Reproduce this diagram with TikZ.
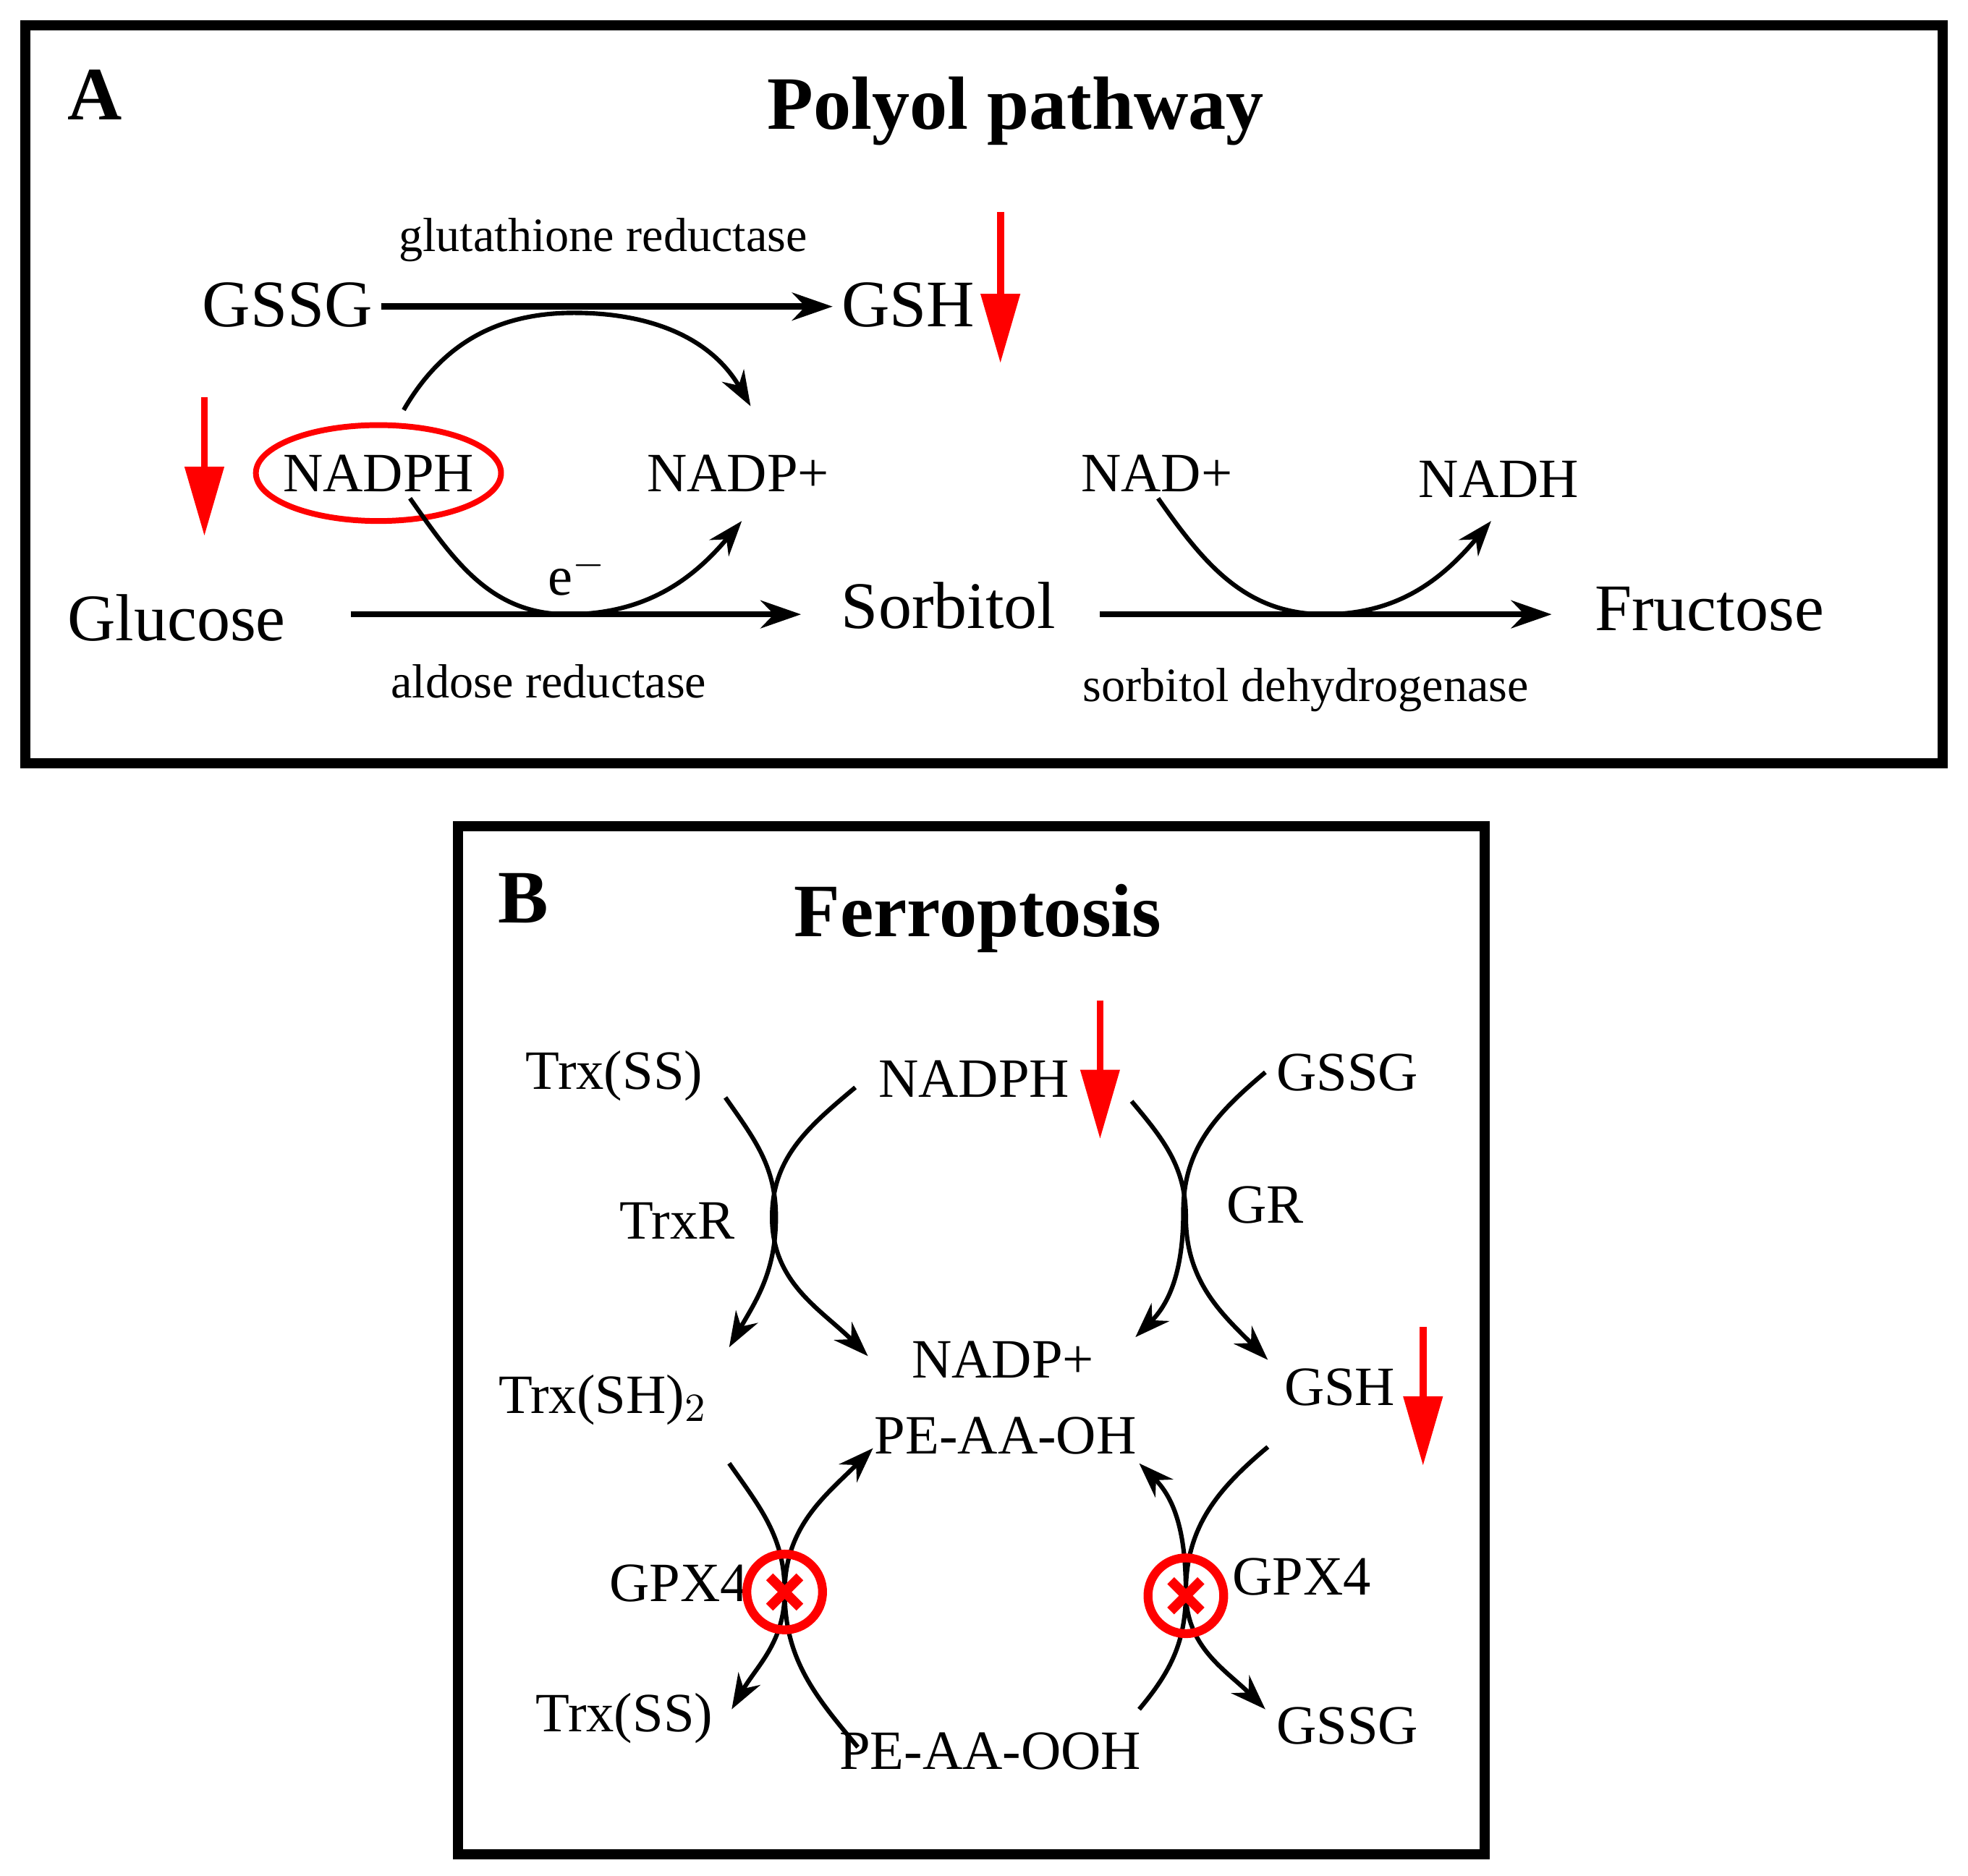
\documentclass[tikz,border=0pt]{standalone}
\usepackage{fontspec}
\setmainfont{Liberation Serif}
\usetikzlibrary{arrows.meta,shapes.geometric}
\begin{document}
\begin{tikzpicture}[x=0.01cm,y=-0.01cm,
 big/.style={font=\fontsize{15}{17}\selectfont},
 mid/.style={font=\fontsize{12.5}{15}\selectfont},
 sm/.style={font=\fontsize{10.8}{13}\selectfont},
 ttl/.style={font=\bfseries\fontsize{17}{20}\selectfont},
 rx/.style={line width=1.4pt,-{Stealth[length=0.32cm,width=0.22cm]}},
 cv/.style={line width=1pt,-{Stealth[length=0.28cm,width=0.2cm]}},
 redarr/.style={draw=red,line width=1.6pt,-{Triangle[length=0.55cm,width=0.3cm]}},
 xline/.style={draw=red,line width=2.2pt},
 box/.style={line width=2.2pt}]
\useasboundingbox (0,0) rectangle (1560,1487);
% Panel A
\draw[box] (20,20) rectangle (1540,605);
\node[ttl] (A) at (75,75) {A};
\node[ttl] (tA) at (805,88) {Polyol pathway};
\node[big] (gssg) at (228,242) {GSSG};
\node[big] (gsh) at (720,242) {GSH};
\node[sm] (gr) at (478,190) {glutathione reductase};
\coordinate (g1) at (302,243); \coordinate (g2) at (660,243);
\draw[rx] (g1) -- (g2);
\coordinate (r1a) at (793,168); \coordinate (r1b) at (793,288);
\draw[redarr] (r1a) -- (r1b);
\node[mid,draw=red,ellipse,line width=1.3pt,inner xsep=-0.07cm,inner ysep=0pt,minimum width=1.94cm,minimum height=0.76cm] (nadph) at (300,375) {NADPH};
\node[mid] (nadp) at (585,375) {NADP+};
\coordinate (r2a) at (162,315); \coordinate (r2b) at (162,425);
\draw[redarr] (r2a) -- (r2b);
\coordinate (c1) at (320,325); \coordinate (c1m) at (455,248); \coordinate (c1e) at (595,322);
\draw[cv] (c1) to[out=60,in=180] (c1m) to[out=0,in=120] (c1e);
\node[big] (glc) at (140,490) {Glucose};
\node[big] (sor) at (752,480) {Sorbitol};
\node[big] (fru) at (1355,483) {Fructose};
\coordinate (a1) at (278,487); \coordinate (a2) at (635,487);
\draw[rx] (a1) -- (a2);
\node[sm] (ar) at (435,540) {aldose reductase};
\coordinate (c2) at (325,395); \coordinate (c2m) at (450,487); \coordinate (c2e) at (588,413);
\draw[cv] (c2) to[out=-55,in=180] (c2m) to[out=0,in=-130] (c2e);
\node[mid] (e) at (458,455) {e$^{-}$};
\node[mid] (nad) at (917,375) {NAD+};
\node[mid] (nadh) at (1188,380) {NADH};
\coordinate (c3) at (918,395); \coordinate (c3m) at (1050,487); \coordinate (c3e) at (1182,413);
\draw[cv] (c3) to[out=-55,in=180] (c3m) to[out=0,in=-130] (c3e);
\coordinate (s1) at (872,487); \coordinate (s2) at (1230,487);
\draw[rx] (s1) -- (s2);
\node[sm] (sdh) at (1035,547) {sorbitol dehydrogenase};
% Panel B
\draw[box] (363,655) rectangle (1177,1470);
\node[ttl] (B) at (415,712) {B};
\node[ttl] (tB) at (775,728) {Ferroptosis};
\node[mid] (trxss) at (487,853) {Trx(SS)};
\node[mid] (nadphB) at (772,855) {NADPH};
\node[mid] (gssgB) at (1068,850) {GSSG};
\coordinate (r3a) at (872,793); \coordinate (r3b) at (872,903);
\draw[redarr] (r3a) -- (r3b);
\node[mid] (trxr) at (537,968) {TrxR};
\node[mid] (grB) at (1003,955) {GR};
\coordinate (l1) at (575,870); \coordinate (l1m) at (615,965); \coordinate (l1e) at (578,1068);
\draw[cv] (l1) to[out=-55,in=90] (l1m) to[out=-90,in=60] (l1e);
\coordinate (l2) at (678,862); \coordinate (l2m) at (612,965); \coordinate (l2e) at (688,1075);
\draw[cv] (l2) to[out=-140,in=90] (l2m) to[out=-90,in=135] (l2e);
\coordinate (q1) at (897,873); \coordinate (q1m) at (940,965); \coordinate (q1e) at (1005,1078);
\draw[cv] (q1) to[out=-50,in=90] (q1m) to[out=-90,in=135] (q1e);
\coordinate (q2) at (1003,850); \coordinate (q2m) at (938,960); \coordinate (q2e) at (900,1060);
\draw[cv] (q2) to[out=-140,in=90] (q2m) to[out=-90,in=45] (q2e);
\node[mid] (nadpB) at (795,1078) {NADP+};
\node[mid] (peoh) at (797,1138) {PE-AA-OH};
\node[mid] (trxsh) at (478,1110) {Trx(SH)$_2$};
\node[mid] (gshB) at (1062,1100) {GSH};
\coordinate (r4a) at (1128,1052); \coordinate (r4b) at (1128,1162);
\draw[redarr] (r4a) -- (r4b);
\coordinate (m1) at (578,1160); \coordinate (m1m) at (622,1262); \coordinate (m1e) at (580,1355);
\draw[cv] (m1) to[out=-55,in=90] (m1m) to[out=-90,in=60] (m1e);
\coordinate (m2) at (680,1385); \coordinate (m2m) at (622,1262); \coordinate (m2e) at (692,1148);
\draw[cv] (m2) to[out=130,in=-90] (m2m) to[out=90,in=-135] (m2e);
\coordinate (n1) at (1005,1147); \coordinate (n1m) at (940,1262); \coordinate (n1e) at (1003,1355);
\draw[cv] (n1) to[out=-140,in=90] (n1m) to[out=-90,in=135] (n1e);
\coordinate (n2) at (903,1355); \coordinate (n2m) at (940,1262); \coordinate (n2e) at (903,1160);
\draw[cv] (n2) to[out=50,in=-90] (n2m) to[out=90,in=-45] (n2e);
\node[mid] (gpx1) at (538,1255) {GPX4};
\node[mid] (gpx2) at (1032,1250) {GPX4};
\node[mid] (trxss2) at (495,1362) {Trx(SS)};
\node[mid] (peooh) at (785,1388) {PE-AA-OOH};
\node[mid] (gssg2) at (1068,1368) {GSSG};
\foreach \n/\p in {x1/{(622,1262)},x2/{(940,1265)}}{
 \node[circle,draw=red,line width=2pt,minimum size=0.6cm,inner sep=0pt] (\n) at \p {};
 \draw[xline] ([shift={(-12,-12)}]\n.center) -- ([shift={(12,12)}]\n.center);
 \draw[xline] ([shift={(-12,12)}]\n.center) -- ([shift={(12,-12)}]\n.center);
}
\end{tikzpicture}
\end{document}
